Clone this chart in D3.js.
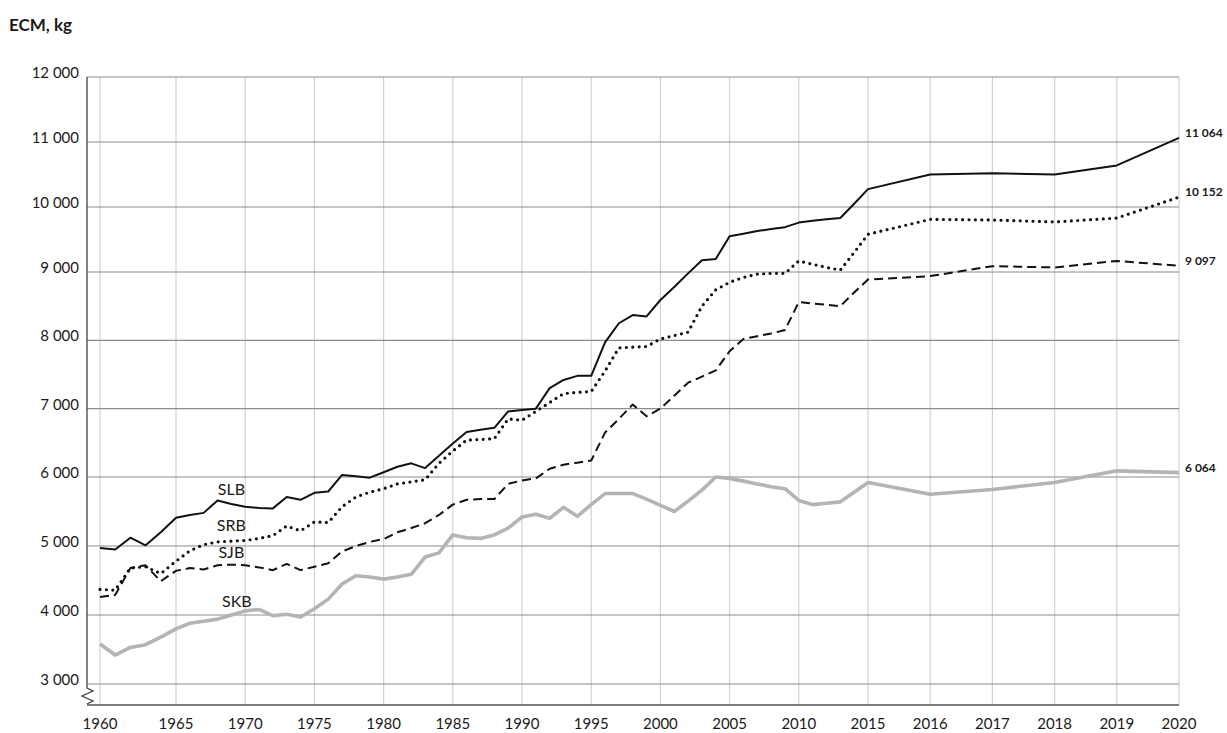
<!DOCTYPE html>
<html>
<head>
<meta charset="utf-8">
<script src="https://cdn.jsdelivr.net/npm/d3@7"></script>
<style>
  body { margin: 0; background: #fff; }
  text { font-family: Lato, "Open Sans", sans-serif; }
</style>
</head>
<body>
<div id="chart"></div>
<script>
// years on the x axis (yearly to 2015, then yearly with wider spacing)
const years = [1960,1961,1962,1963,1964,1965,1966,1967,1968,1969,
  1970,1971,1972,1973,1974,1975,1976,1977,1978,1979,
  1980,1981,1982,1983,1984,1985,1986,1987,1988,1989,
  1990,1991,1992,1993,1994,1995,1996,1997,1998,1999,
  2000,2001,2002,2003,2004,2005,2006,2007,2008,2009,
  2010,2011,2012,2013,2014,2015,2016,2017,2018,2019,2020];

const slb = [4970,4950,5120,5010,5200,5410,5450,5480,5660,5610,
  5570,5550,5545,5710,5670,5770,5790,6030,6010,5990,
  6070,6150,6200,6130,6310,6490,6660,6690,6720,6960,
  6980,7000,7300,7420,7480,7480,7970,8250,8370,8350,
  8590,8780,8980,9180,9200,9550,9590,9630,9660,9690,
  9760,9790,9810,9830,10050,10275,10500,10520,10500,10640,11064];

const srb = [4370,4360,4680,4700,4600,4780,4930,5020,5060,5070,
  5080,5110,5150,5290,5220,5350,5340,5570,5710,5780,
  5830,5900,5930,5960,6200,6380,6540,6550,6560,6850,
  6830,6960,7090,7220,7240,7250,7550,7890,7900,7910,
  8020,8070,8120,8500,8740,8850,8920,8970,8980,8980,
  9170,9120,9070,9030,9300,9580,9810,9800,9770,9830,10152];

const sjb = [4260,4290,4680,4720,4490,4640,4680,4660,4720,4730,
  4720,4690,4650,4740,4650,4700,4750,4920,5000,5060,
  5100,5200,5260,5330,5450,5600,5670,5680,5680,5900,
  5950,5980,6120,6180,6210,6240,6650,6850,7060,6890,
  7000,7190,7380,7470,7560,7840,8020,8060,8100,8150,
  8560,8540,8520,8500,8700,8890,8940,9090,9070,9170,9097];

const skb = [3580,3420,3530,3570,3680,3800,3880,3910,3940,4000,
  4060,4080,3990,4010,3970,4090,4230,4450,4570,4550,
  4520,4550,4590,4840,4900,5160,5120,5110,5160,5260,
  5420,5460,5400,5560,5430,5600,5760,5760,5760,5680,
  5590,5500,5650,5810,6000,5980,5940,5900,5860,5830,
  5660,5600,5620,5640,5780,5920,5750,5820,5920,6090,6064];

const xTicks = [1960,1965,1970,1975,1980,1985,1990,1995,2000,2005,2010,2015,2016,2017,2018,2019,2020];
const yTicks = [3000,4000,5000,6000,7000,8000,9000,10000,11000,12000];

const seriesNames = ["SLB","SRB","SJB","SKB"];
const labelYears = [1969,1969,1969,1969.4];
const labelValues = [5800,5275,4885,4170];

const series = [
  {name: "SLB", values: slb, stroke: "#111", width: 2, dash: null, cap: "butt"},
  {name: "SRB", values: srb, stroke: "#111", width: 3.2, dash: "0,6.4", cap: "round"},
  {name: "SJB", values: sjb, stroke: "#111", width: 2, dash: "9,5", cap: "butt"},
  {name: "SKB", values: skb, stroke: "#b4b4b4", width: 3.6, dash: null, cap: "butt"}
];

const W = 1227, H = 733;
const mLeft = 87, mTop = 77, mBottom = 705;

const svg = d3.select("#chart").append("svg")
  .attr("width", W).attr("height", H);
svg.append("rect").attr("width", W).attr("height", H).attr("fill", "#fff");

// 1960-2015 in 5-year steps, then one step per year
const x = d3.scaleLinear()
  .domain([1960, 1965, 2015, 2020])
  .range([100, 176, 868, 1179]);
// the source grid is slightly uneven, follow it
const y = d3.scaleLinear()
  .domain([3000, 6000, 9000, 12000])
  .range([684, 477, 272, mTop]);

const loc = d3.formatLocale({decimal: ".", thousands: " ", grouping: [3], currency: ["", ""]});
const fmt = loc.format(",");

// vertical gridlines
svg.append("g").selectAll("line")
  .data(xTicks)
  .join("line")
    .attr("x1", d => x(d)).attr("x2", d => x(d))
    .attr("y1", mTop).attr("y2", mBottom)
    .attr("stroke", "#d2d2d2").attr("stroke-width", 1.2);

// horizontal gridlines
svg.append("g").selectAll("line")
  .data(yTicks)
  .join("line")
    .attr("x1", mLeft).attr("x2", x(2020))
    .attr("y1", d => y(d)).attr("y2", d => y(d))
    .attr("stroke", "#8c8c8c").attr("stroke-width", 1.2);

// left axis with a break mark
svg.append("path")
  .attr("d", `M${mLeft},${mTop} V${mBottom - 17} L${mLeft + 6},${mBottom - 14} L${mLeft - 5},${mBottom - 9} L${mLeft + 6},${mBottom - 4} L${mLeft},${mBottom - 1}`)
  .attr("fill", "none").attr("stroke", "#444").attr("stroke-width", 1.3);

// bottom axis
svg.append("line")
  .attr("x1", mLeft).attr("x2", x(2020))
  .attr("y1", mBottom).attr("y2", mBottom)
  .attr("stroke", "#555").attr("stroke-width", 1.6);

// tick labels
svg.append("g").selectAll("text")
  .data(yTicks)
  .join("text")
    .attr("x", mLeft - 8)
    .attr("y", d => y(d) + 1)
    .attr("text-anchor", "end")
    .attr("font-size", 15)
    .attr("fill", "#1a1a1a")
    .text(d => fmt(d));

svg.append("g").selectAll("text")
  .data(xTicks)
  .join("text")
    .attr("x", d => x(d))
    .attr("y", 729)
    .attr("text-anchor", "middle")
    .attr("font-size", 15)
    .attr("fill", "#1a1a1a")
    .text(d => d);

svg.append("text")
  .attr("x", 9).attr("y", 31)
  .attr("font-size", 17).attr("font-weight", "bold")
  .attr("fill", "#1a1a1a")
  .text("ECM, kg");

// series lines (grey one underneath)
const line = d3.line()
  .x((d, i) => x(years[i]))
  .y(d => y(d));

svg.append("g").selectAll("path")
  .data(series.slice().reverse())
  .join("path")
    .attr("d", d => line(d.values))
    .attr("fill", "none")
    .attr("stroke", d => d.stroke)
    .attr("stroke-width", d => d.width)
    .attr("stroke-dasharray", d => d.dash)
    .attr("stroke-linecap", d => d.cap)
    .attr("stroke-linejoin", "round");

// series names
svg.append("g").selectAll("text")
  .data(seriesNames)
  .join("text")
    .attr("x", (d, i) => x(labelYears[i]))
    .attr("y", (d, i) => y(labelValues[i]))
    .attr("dominant-baseline", "middle")
    .attr("text-anchor", "middle")
    .attr("font-size", 16)
    .attr("fill", "#1a1a1a")
    .text(d => d);

// end values
svg.append("g").selectAll("text")
  .data(series)
  .join("text")
    .attr("x", x(2020) + 6)
    .attr("y", d => y(d.values[d.values.length - 1]) - 4)
    .attr("dominant-baseline", "middle")
    .attr("font-size", 12)
    .attr("font-weight", "bold")
    .attr("fill", "#1a1a1a")
    .text(d => fmt(d.values[d.values.length - 1]));
</script>
</body>
</html>
